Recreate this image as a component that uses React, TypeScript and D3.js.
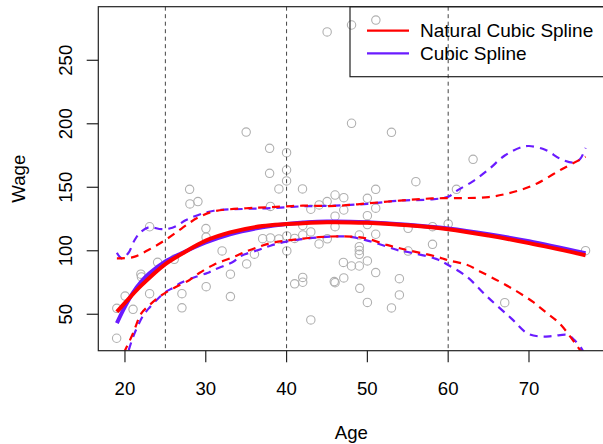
import React from 'react';
import * as d3 from 'd3';

// Scatter points (Age, Wage)
const pointAge = [
  18.97, 20.02, 18.99, 21.0, 21.97, 22.04, 23.05, 23.05, 24.04, 26.1, 27.05, 27.05, 28.04, 28.0, 29.03,
  30.02, 30.04, 30.05, 32.02, 33.05, 33.05, 35.06, 36.02, 37.04, 35.0, 37.9, 37.9, 38.0, 38.0, 39.05,
  40.03, 40.03, 41.0, 42.0, 42.0, 42.0, 42.0, 41.0, 43.0, 43.0, 44.02, 45.04, 46.0, 46.0, 46.0, 45.9,
  47.03, 47.08, 48.03, 49.0, 49.0, 49.0, 49.0, 49.0, 49.06, 50.0, 50.0, 50.0, 50.0, 51.03, 51.03,
  52.98, 53.96, 53.96, 55.04, 55.04, 58.06, 58.06, 39.05, 41.97, 40.0, 40.0, 40.0, 43.0, 44.03, 45.02,
  46.0, 47.08, 47.08, 50.0, 51.03, 51.03, 56.0, 45.02, 48.04, 51.05, 48.04, 52.98, 63.08, 61.02, 60.0,
  67.0, 77.0,
];
const pointWage = [
  31.1, 64.3, 54.7, 53.9, 81.6, 79.4, 66.2, 118.9, 90.9, 93.3, 66.2, 55.1, 136.9, 148.4, 138.7,
  117.5, 110.7, 71.7, 99.9, 81.6, 63.9, 89.6, 97.3, 109.5, 193.5, 180.7, 161.0, 134.9, 110.1, 109.3,
  111.7, 99.9, 109.7, 119.9, 112.4, 79.0, 75.2, 74.0, 114.8, 45.5, 105.4, 109.4, 119.0, 127.2, 74.9, 75.7,
  90.8, 78.6, 88.0, 112.4, 103.2, 100.2, 97.2, 88.0, 70.4, 127.6, 120.6, 92.0, 59.3, 113.0, 82.8,
  55.0, 78.0, 65.2, 117.7, 99.8, 119.0, 105.1, 148.7, 148.7, 155.0, 163.6, 177.2, 132.7, 136.1, 138.7,
  143.9, 141.8, 132.1, 141.3, 148.4, 133.5, 154.4, 272.3, 277.8, 281.7, 200.4, 193.3, 172.0, 148.4, 121.1,
  59.1, 100.1,
];

// Natural cubic spline fit and ±2SE bands
const nsFitAge = [19, 20, 22, 25, 27, 30, 33, 37, 40, 45, 50, 55, 60, 65, 70, 77];
const nsFit = [52, 59, 72.5, 89.5, 97.5, 108, 114.5, 119.5, 121, 122.5, 122, 120, 117, 112, 106, 96.5];
const nsUpAge = [19, 21, 23, 25, 27, 29, 31, 35, 38, 42, 46, 50, 54, 58, 62, 65, 67, 69, 71, 74, 77];
const nsUp = [94, 95, 101, 108.5, 117.5, 126, 131, 133.5, 134.3, 135.5, 135.3, 137.3, 139.5, 141.2, 141.5, 142.3, 144.5, 148, 153, 164, 174];
const nsLoAge = [19, 20, 21, 22, 23, 24.3, 26, 28, 29.2, 31, 33.4, 35, 36.5, 38, 40, 44, 48, 50, 52.4, 54, 55, 58.5, 60, 62.3, 64, 66.4, 68.5, 70.5, 72, 73.8, 76.3, 77];
const nsLo = [10, 21.5, 35, 50.5, 57, 64, 70.5, 77, 82.5, 89, 95, 99.5, 103, 106, 108, 110.8, 111.2, 109.5, 104.6, 102, 100.5, 95.5, 92.5, 89, 83.5, 75.6, 68, 59.7, 52, 42.6, 22, 16];

// Cubic spline (knots 25, 40, 60) fit and ±2SE bands
const csFitAge = [19, 20, 21, 22, 23, 25, 27, 30, 33, 37, 40, 45, 50, 55, 60, 65, 70, 77];
const csFit = [43, 56, 67, 75.5, 82, 91.5, 98, 106.5, 113, 118.5, 121, 123, 122.5, 120.5, 117.5, 113, 107.5, 98];
const csUpAge = [19, 19.6, 20.4, 21.2, 22, 23, 24.5, 25.5, 26.5, 27.5, 29, 31, 35, 38, 42, 46, 50, 54, 58, 60, 61, 63, 65, 67, 69, 70, 72, 74, 75.5, 76.3, 77];
const csUp = [98.5, 94, 98, 108.5, 115, 118.5, 117, 117.5, 120, 124, 128, 131.5, 133, 133.5, 135, 135.5, 137, 139.5, 140.5, 142.5, 147, 154.5, 164, 175, 181.5, 182.5, 179.5, 172, 169.5, 172, 181];
const csLoAge = [19, 20, 21, 21.6, 22.3, 23, 24.2, 25, 26, 27, 29, 30.2, 31, 33.4, 34.4, 36.5, 38, 40, 44, 47.8, 50, 52.4, 54, 55, 58.5, 60, 62.3, 64.8, 67.8, 69.8, 71.5, 73, 74.8, 75.6, 76.6, 77];
const csLo = [-10, 12, 32, 41, 49.4, 55, 63, 67.5, 71, 75, 80, 82.5, 85, 91.4, 96, 100.6, 104, 107.2, 110.5, 111, 108, 103.3, 100.1, 99, 93.6, 88.8, 79.6, 64, 46.8, 35, 32.4, 32.9, 33.7, 29.8, 22, 17];

const knots = [25, 40, 60];
const xTicks = [20, 30, 40, 50, 60, 70];
const yTicks = [50, 100, 150, 200, 250];
const legendLabels = ['Natural Cubic Spline', 'Cubic Spline'];

const RED = '#ff0000';
const BLUE = '#6a1bff';
const FONT = 'Liberation Sans, Arial, Helvetica, sans-serif';

export default function App() {
  const W = 603, H = 444;
  const left = 98.3, right = 604.3, top = 6.7, bottom = 350.7;
  const x = d3.scaleLinear().domain([16.7, 79.32]).range([left, right]);
  const y = d3.scaleLinear().domain([21.3, 292.2]).range([bottom, top]);

  const path = (a: number[], v: number[]) =>
    d3.line<number>()
      .x((_, i) => x(a[i]))
      .y((d) => y(d))
      .curve(d3.curveCatmullRom.alpha(0.5))(v) || '';

  const dash = '8,6';

  return (
    <svg width={W} height={H} style={{ position: 'absolute', left: 0, top: 0, background: '#fff' }} fontFamily={FONT}>
      <defs>
        <clipPath id="plotclip">
          <rect x={left} y={top} width={right - left} height={bottom - top} />
        </clipPath>
      </defs>
      <rect x={0} y={0} width={W} height={H} fill="#fff" />

      {/* points */}
      <g>
        {pointAge.map((a, i) => (
          <circle key={i} cx={x(a)} cy={y(pointWage[i])} r={4.2} fill="none" stroke="#b0b0b0" strokeWidth={1.1} />
        ))}
      </g>

      {/* knot lines */}
      {knots.map((k) => (
        <line key={k} x1={x(k)} x2={x(k)} y1={top} y2={bottom} stroke="#444" strokeWidth={1} strokeDasharray="4,3.5" />
      ))}

      <g clipPath="url(#plotclip)" fill="none">
        <path d={path(csFitAge, csFit)} stroke={BLUE} strokeWidth={4} />
        <path d={path(csUpAge, csUp)} stroke={BLUE} strokeWidth={2.2} strokeDasharray={dash} />
        <path d={path(csLoAge, csLo)} stroke={BLUE} strokeWidth={2.2} strokeDasharray={dash} />
        <path d={path(nsFitAge, nsFit)} stroke={RED} strokeWidth={4} />
        <path d={path(nsUpAge, nsUp)} stroke={RED} strokeWidth={2.2} strokeDasharray={dash} />
        <path d={path(nsLoAge, nsLo)} stroke={RED} strokeWidth={2.2} strokeDasharray={dash} />
      </g>

      {/* box */}
      <rect x={left} y={top} width={right - left} height={bottom - top} fill="none" stroke="#222" strokeWidth={1.2} />

      {/* x axis */}
      {xTicks.map((t) => (
        <g key={t}>
          <line x1={x(t)} x2={x(t)} y1={bottom} y2={bottom + 11.6} stroke="#222" strokeWidth={1.2} />
          <text x={x(t)} y={395} textAnchor="middle" fontSize={18.6} fill="#000">{t}</text>
        </g>
      ))}
      {/* y axis */}
      {yTicks.map((t) => (
        <g key={t}>
          <line x1={left - 11.6} x2={left} y1={y(t)} y2={y(t)} stroke="#222" strokeWidth={1.2} />
          <text transform={`translate(71.5,${y(t)}) rotate(-90)`} textAnchor="middle" fontSize={18.6} fill="#000">{t}</text>
        </g>
      ))}

      <text x={(left + right) / 2} y={439} textAnchor="middle" fontSize={18.6} fill="#000">Age</text>
      <text transform={`translate(25,${(top + bottom) / 2}) rotate(-90)`} textAnchor="middle" fontSize={18.6} fill="#000">Wage</text>

      {/* legend */}
      <rect x={350} y={top} width={300} height={70} fill="none" stroke="#222" strokeWidth={1.2} />
      {legendLabels.map((lab, i) => (
        <g key={lab}>
          <line x1={367} x2={409} y1={30.7 + i * 22.6} y2={30.7 + i * 22.6} stroke={i === 0 ? RED : BLUE} strokeWidth={2.2} />
          <text x={420} y={30.7 + i * 22.6} dominantBaseline="central" fontSize={19} fill="#000">{lab}</text>
        </g>
      ))}
    </svg>
  );
}
